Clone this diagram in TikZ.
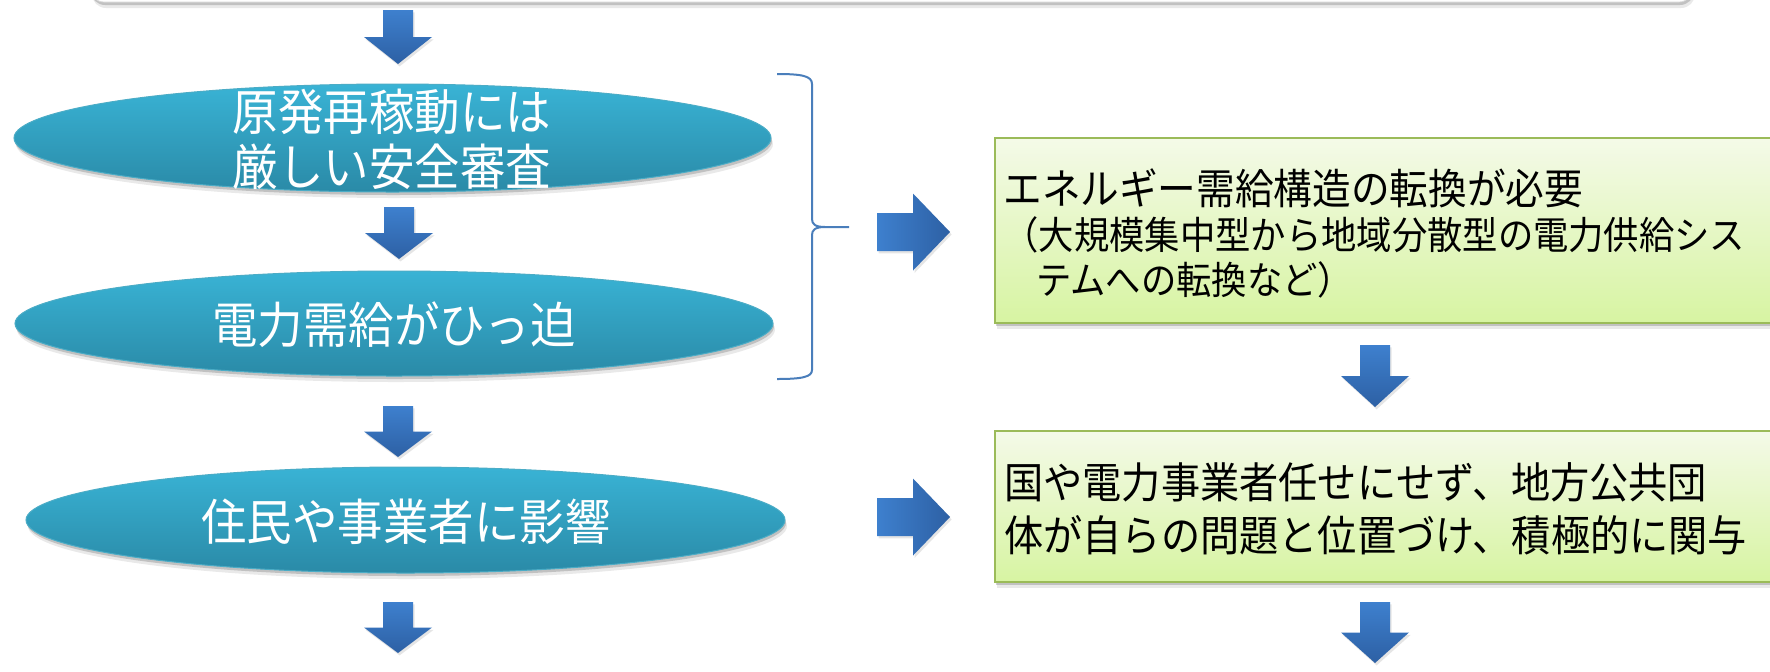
\documentclass[tikz,border=0pt]{standalone}
\usepackage{fontspec}
\setmainfont{Noto Sans CJK JP}[FakeStretch=0.92]
\usetikzlibrary{shapes.geometric,shadows}
\definecolor{ovaltop}{RGB}{57,179,213}
\definecolor{ovalbot}{RGB}{42,138,167}
\definecolor{ovalline}{RGB}{75,172,198}
\definecolor{boxtop}{RGB}{244,250,232}
\definecolor{boxbot}{RGB}{215,244,162}
\definecolor{boxline}{RGB}{155,187,89}
\definecolor{arrlight}{RGB}{62,128,206}
\definecolor{arrdark}{RGB}{45,96,164}
\definecolor{bracecol}{RGB}{74,126,187}

\tikzset{
  softshadow/.style={drop shadow={shadow xshift=0.5pt, shadow yshift=-1.5pt, opacity=0.25, fill=black!70},
                     drop shadow={shadow xshift=1pt, shadow yshift=-3pt, opacity=0.12, fill=black!70}},
  oval/.style={ellipse, inner sep=0pt, top color=ovaltop, bottom color=ovalbot, draw=ovalline, line width=0.5pt, softshadow},
  ovaltext/.style={text=white, align=center, inner sep=0pt, font=\fontsize{24.7}{27.5}\selectfont},
  greenbox/.style={rectangle, inner sep=0pt, top color=boxtop, bottom color=boxbot, draw=boxline, line width=1pt, softshadow},
  boxtext/.style={anchor=west, align=left, inner sep=0pt},
  arrv/.style={top color=arrlight, bottom color=arrdark, drop shadow={shadow xshift=0.8pt, shadow yshift=-1.2pt, opacity=0.2}},
  arrh/.style={left color=arrlight, right color=arrdark, drop shadow={shadow xshift=0.8pt, shadow yshift=-1.2pt, opacity=0.2}},
}

\begin{document}
\begin{tikzpicture}[x=0.5pt, y=-0.5pt]
  \useasboundingbox (0,0) rectangle (1770,671);
  \fill[white] (0,0) rectangle (1770,671);

  % Box at the top, cut off
  \node[rectangle, rounded corners=7pt, fill=white, draw=black!15, softshadow,
        minimum width=801.5pt, minimum height=31pt] (topbox) at (891.5,-29) {};

  % Ovals on the left
  \node[oval, minimum width=378.5pt, minimum height=54pt] (review) at (392.5,138) {};
  \node[ovaltext] (reviewtext) at (392,139.5) {原発再稼動には\\厳しい安全審査};
  \node[oval, minimum width=379pt, minimum height=52.5pt] (supply) at (394,323.5) {};
  \node[ovaltext] (supplytext) at (394,325) {電力需給がひっ迫};
  \node[oval, minimum width=379.5pt, minimum height=53pt] (impact) at (405.5,520) {};
  \node[ovaltext] (impacttext) at (406,522) {住民や事業者に影響};

  % Green boxes on the right
  \node[greenbox, minimum width=397.5pt, minimum height=92.5pt] (shift) at (1392.5,230.5) {};
  \node[boxtext, font=\fontsize{21}{24}\selectfont] (shifttitle) at (1003,188) {エネルギー需給構造の転換が必要};
  \node[boxtext, font=\fontsize{19.2}{22.5}\selectfont] (shiftnote) at (1003,257.5)
    {（大規模集中型から地域分散型の電力供給シス\\\hspace*{0.85em}テムへの転換など）};
  \node[greenbox, minimum width=397.5pt, minimum height=75.5pt] (local) at (1392.5,506.5) {};
  \node[boxtext, font=\fontsize{21.3}{26.5}\selectfont] (localtext) at (1004,508.5)
    {国や電力事業者任せにせず、地方公共団\\体が自らの問題と位置づけ、積極的に関与};

  % Down arrows
  \foreach \x/\y/\l in {398/10/54, 399/207/52, 398/406/51, 398/602/51, 1375/345/62, 1375/602/61}
    \shade[arrv] (\x-15,\y) -- (\x+15,\y) -- (\x+15,\y+\l/2) -- (\x+34,\y+\l/2) -- (\x,\y+\l)
      -- (\x-34,\y+\l/2) -- (\x-15,\y+\l/2) -- cycle;

  % Right arrows
  \foreach \y in {232,517}
    \shade[arrh] (877,\y-19) -- (913,\y-19) -- (913,\y-38.5) -- (950,\y) -- (913,\y+38.5)
      -- (913,\y+19) -- (877,\y+19) -- cycle;

  % Brace
  \draw[bracecol, line width=1pt] (777,74) .. controls (802,74) and (812,76) .. (812,84)
    -- (812,219) .. controls (812,224) and (815,227) .. (825,227) -- (849,227) -- (825,227)
    .. controls (815,227) and (812,230) .. (812,235) -- (812,370)
    .. controls (812,377) and (802,379) .. (777,379);
\end{tikzpicture}
\end{document}
